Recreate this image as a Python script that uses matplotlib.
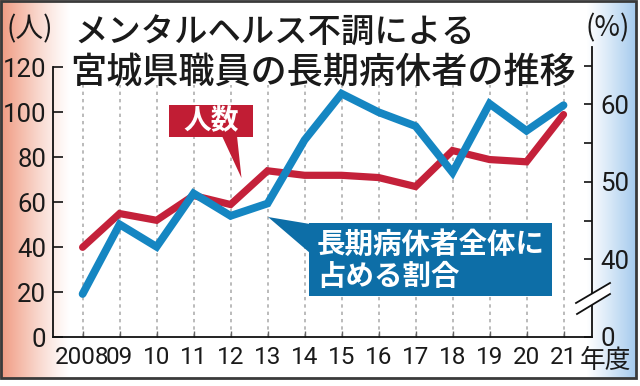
import matplotlib
matplotlib.use('Agg')
import matplotlib.pyplot as plt
from matplotlib import font_manager as fm
from matplotlib.patches import Rectangle, Polygon
from matplotlib.lines import Line2D
import numpy as np

# ---- data ----
years = list(range(2008, 2022))
year_labels = ['2008', '09', '10', '11', '12', '13', '14', '15', '16', '17', '18', '19', '20', '21']
persons = [40, 55, 52, 63, 59, 74, 72, 72, 71, 67, 83, 79, 78, 99]          # 人数 (left axis)
ratio = [35.5, 44.5, 41.6, 48.5, 45.6, 47.2, 55.4, 61.4, 59.0, 57.2, 51.2, 60.1, 56.6, 59.9]  # 割合 % (right axis)
left_ticks = [0, 20, 40, 60, 80, 100, 120]
right_ticks = [30, 40, 50, 60]
right_tick_labels = ['0', '40', '50', '60']
right_minor = [45, 55, 65]

title1 = 'メンタルヘルス不調による'
title2 = '宮城県職員の長期病休者の推移'
label_persons = '人数'
label_ratio = '長期病休者全体に\n占める割合'

# ---- fonts ----
JP = 'Noto Sans CJK JP'
NUM = dict(family=['Roboto', 'DejaVu Sans'])
NUMSIZE = 17.5
jp_weights = {f.weight for f in fm.fontManager.ttflist if f.name == JP}
TW = 'medium' if 500 in jp_weights else 'bold'

W, H = 640, 386
fig = plt.figure(figsize=(W / 100, H / 100), dpi=100, facecolor='white')

def fx(p):
    return p / W

def fy(p):
    return 1 - p / H

# ---- background gradient panel ----
FW, FH = 636, 378
bg = fig.add_axes([0, fy(FH), FW / W, FH / H])
xs = np.arange(FW)
img = np.ones((1, FW, 3))
salmon = np.array([0.94, 0.60, 0.50])
blue_bg = np.array([0.64, 0.79, 0.93])
tl = np.clip(1 - xs / 70, 0, 1) ** 1.2
tr = np.clip((xs - 586) / 50, 0, 1) ** 1.1
for c in range(3):
    img[0, :, c] = 1 - tl * (1 - salmon[c]) - tr * (1 - blue_bg[c])
bg.imshow(img, aspect='auto', extent=[0, 1, 0, 1])
bg.set_axis_off()
fig.patches.append(Rectangle((0.001, fy(FH)), FW / W - 0.001, FH / H - 0.002,
                             transform=fig.transFigure, fill=False,
                             edgecolor='#3a3a3a', lw=2, zorder=5))

# ---- axes ----
x0, x1 = 53, 592
yb, yt = 337.3, 67.3
ax = fig.add_axes([fx(x0), fy(yb), (x1 - x0) / W, (yb - yt) / H])
ax.set_facecolor('none')
ax.set_xlim(2007.2, 2021.77)
ax.set_ylim(0, 120)
for s in ['top', 'right']:
    ax.spines[s].set_visible(False)
for s in ['left', 'bottom']:
    ax.spines[s].set_color('#111')
    ax.spines[s].set_linewidth(1.3)

ax.set_yticks(left_ticks)
ax.set_yticklabels([str(v) for v in left_ticks], fontsize=NUMSIZE + 1, color='#1a1a1a', **NUM)
ax.tick_params(axis='y', direction='in', length=7, width=1.2, color='#111', pad=5)
ax.set_xticks(years)
ax.set_xticklabels(year_labels, fontsize=NUMSIZE, color='#1a1a1a', **NUM)
ax.tick_params(axis='x', direction='in', length=4, width=1, color='#666', pad=6)

ax.vlines(years, 0, 112, colors='#a8a8a8', linestyles=(0, (2.2, 2.6)), lw=1.1, zorder=1)
ax.plot(years, persons, color='#c4213a', lw=5.2, solid_capstyle='round',
        solid_joinstyle='miter', zorder=3)

# right axis (separate axes, taller so spine extends above)
ytop2 = 47
ax2 = fig.add_axes([fx(x0), fy(yb), (x1 - x0) / W, (yb - ytop2) / H])
ax2.set_facecolor('none')
ax2.set_xlim(2007.2, 2021.77)
pxper = 7.735
ax2.set_ylim(29.9, 29.9 + (yb - ytop2) / pxper)
for s in ['top', 'left', 'bottom']:
    ax2.spines[s].set_visible(False)
ax2.spines['right'].set_color('#111')
ax2.spines['right'].set_linewidth(1.3)
ax2.xaxis.set_visible(False)
ax2.yaxis.tick_right()
ax2.set_yticks(right_ticks)
ax2.set_yticklabels(right_tick_labels, fontsize=NUMSIZE + 1, color='#1a1a1a', **NUM)
ax2.set_yticks(right_minor, minor=True)
ax2.tick_params(axis='y', which='both', direction='in', length=6, width=1.2,
                color='#111', pad=6)
ax2.plot(years, ratio, color='#1586c2', lw=5.6, solid_capstyle='round',
         solid_joinstyle='miter', zorder=3)

# axis break on the right spine
brk = Polygon([[fx(576), fy(303)], [fx(610), fy(283)], [fx(610), fy(294)], [fx(577), fy(314)]],
              closed=True, transform=fig.transFigure, facecolor='white',
              edgecolor='none', zorder=6)
fig.patches.append(brk)
for (a, b), (c, d) in [((576, 303), (610, 283)), ((577, 314), (610, 294))]:
    fig.lines.append(Line2D([fx(a), fx(c)], [fy(b), fy(d)], transform=fig.transFigure,
                            color='#111', lw=1.3, zorder=7))

# ---- texts ----
fig.text(fx(74), fy(33), title1, fontsize=24, family=[JP, 'DejaVu Sans'], weight=TW,
         color='#1a1a1a', ha='left', va='center')
fig.text(fx(70), fy(73), title2, fontsize=26, family=[JP, 'DejaVu Sans'], weight=TW,
         color='#1a1a1a', ha='left', va='center')
fig.text(fx(30), fy(29), '(人)', fontsize=20, family=[JP, 'DejaVu Sans'],
         color='#1a1a1a', ha='center', va='center')
fig.text(fx(608), fy(28), '(%)', fontsize=20, family=[JP, 'DejaVu Sans'],
         color='#1a1a1a', ha='center', va='center')
fig.text(fx(580), fy(361), '年度', fontsize=18.5, family=[JP, 'DejaVu Sans'],
         color='#1a1a1a', ha='left', va='center')

# red callout
red_box = '#c11d34'
fig.patches.append(Rectangle((fx(169), fy(137)), (253 - 169) / W, (137 - 105) / H,
                             transform=fig.transFigure, facecolor=red_box,
                             edgecolor='none', zorder=8))
fig.patches.append(Polygon([[fx(222), fy(136)], [fx(237), fy(136)], [fx(241.5), fy(178)]],
                           closed=True, transform=fig.transFigure, facecolor=red_box,
                           edgecolor='none', zorder=8))
fig.text(fx(211), fy(121), label_persons, fontsize=20, family=[JP, 'DejaVu Sans'],
         weight='bold', color='white', ha='center', va='center', zorder=9)

# blue callout
blue_box = '#0d6ea7'
fig.patches.append(Rectangle((fx(309), fy(296)), (552 - 309) / W, (296 - 223) / H,
                             transform=fig.transFigure, facecolor=blue_box,
                             edgecolor='none', zorder=8))
fig.patches.append(Polygon([[fx(310), fy(224)], [fx(310), fy(253)], [fx(268), fy(217)]],
                           closed=True, transform=fig.transFigure, facecolor=blue_box,
                           edgecolor='none', zorder=8))
fig.text(fx(317), fy(261), label_ratio, fontsize=20.5, family=[JP, 'DejaVu Sans'],
         weight='bold', color='white', ha='left', va='center', linespacing=1.15, zorder=9)

fig.savefig('out.png', dpi=100, facecolor='white')
